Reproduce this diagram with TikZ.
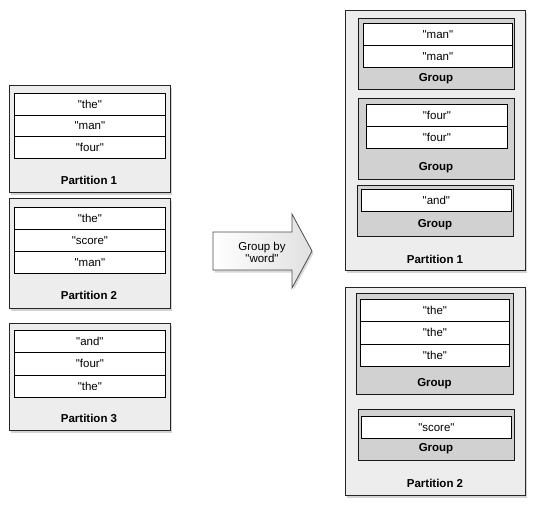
\documentclass[tikz,border=0pt]{standalone}
\usepackage{fontspec}
\setmainfont{Liberation Sans}[Ligatures=TeXOff]
\usetikzlibrary{shadows}

\begin{document}
\begin{tikzpicture}[x=1pt, y=-1pt, line width=0.8pt,
		part/.style={draw=black!85, fill=black!7, anchor=north west, inner sep=0pt,
			drop shadow={shadow xshift=1.5pt, shadow yshift=-2.5pt, opacity=0.35}},
		grp/.style={draw=black!90, fill=black!18, anchor=north west, inner sep=0pt},
		word/.style={draw=black, fill=white, anchor=north west, inner sep=0pt, font=\fontsize{11.5}{13}\selectfont},
		caption/.style={font=\bfseries\fontsize{11.5}{13}\selectfont}]
		\useasboundingbox (0,0) rectangle (535,506);
		% left: the three input partitions
		\node[part, minimum width=161pt, minimum height=107pt] (lp1) at (9,85) {};
		\foreach \w [count=\i] in {"the", "man", "four"}
			\node[word, minimum width=151pt, minimum height=21.7pt] (lp1w\i) at (14, {93+21.7*(\i-1)}) {\w};
		\node[caption] (lp1c) at (89,180.5) {Partition 1};
		\node[part, minimum width=161pt, minimum height=110pt] (lp2) at (9,198) {};
		\foreach \w [count=\i] in {"the", "score", "man"}
			\node[word, minimum width=151pt, minimum height=22pt] (lp2w\i) at (14, {207+22*(\i-1)}) {\w};
		\node[caption] (lp2c) at (89,295.5) {Partition 2};
		\node[part, minimum width=161pt, minimum height=107pt] (lp3) at (9,323) {};
		\foreach \w [count=\i] in {"and", "four", "the"}
			\node[word, minimum width=151pt, minimum height=22.3pt] (lp3w\i) at (14, {330+22.3*(\i-1)}) {\w};
		\node[caption] (lp3c) at (89,418.5) {Partition 3};
		% the big arrow
		\draw[draw=black!70, left color=white, right color=black!12,
			drop shadow={shadow xshift=1.5pt, shadow yshift=-2.5pt, opacity=0.3}]
			(213,232) -- (292,232) -- (292,214) -- (312,251) -- (292,288) -- (292,270) -- (213,270) -- cycle;
		\node[align=center, font=\fontsize{11.5}{12}\selectfont] (grpby) at (262,252) {Group by\\"word"};
		% right: partition 1 with its groups
		\node[part, minimum width=180pt, minimum height=260pt] (rp1) at (345,10) {};
		\node[grp, minimum width=156pt, minimum height=71pt] (rg1) at (358,18) {};
		\foreach \w [count=\i] in {"man", "man"}
			\node[word, minimum width=149pt, minimum height=22pt] (rg1w\i) at (363, {23+22*(\i-1)}) {\w};
		\node[caption] (rg1c) at (436,78.5) {Group};
		\node[grp, minimum width=156pt, minimum height=81pt] (rg2) at (358,98) {};
		\foreach \w [count=\i] in {"four", "four"}
			\node[word, minimum width=141pt, minimum height=22pt] (rg2w\i) at (366, {104+22*(\i-1)}) {\w};
		\node[caption] (rg2c) at (436,167.5) {Group};
		\node[grp, minimum width=156pt, minimum height=51pt] (rg3) at (357,185) {};
		\node[word, minimum width=150pt, minimum height=22pt] (rg3w1) at (361,189) {"and"};
		\node[caption] (rg3c) at (435,224.5) {Group};
		\node[caption] (rp1c) at (435,259.5) {Partition 1};
		% right: partition 2 with its groups
		\node[part, minimum width=180pt, minimum height=208pt] (rp2) at (345,287) {};
		\node[grp, minimum width=157pt, minimum height=101pt] (rg4) at (356,293) {};
		\foreach \w [count=\i] in {"the", "the", "the"}
			\node[word, minimum width=149pt, minimum height=22.3pt] (rg4w\i) at (360, {299+22.3*(\i-1)}) {\w};
		\node[caption] (rg4c) at (434.5,383.5) {Group};
		\node[grp, minimum width=156pt, minimum height=51pt] (rg5) at (358,409) {};
		\node[word, minimum width=150pt, minimum height=22pt] (rg5w1) at (361,416) {"score"};
		\node[caption] (rg5c) at (436,448.5) {Group};
		\node[caption] (rp2c) at (435,483.5) {Partition 2};
	\end{tikzpicture}
\end{document}
